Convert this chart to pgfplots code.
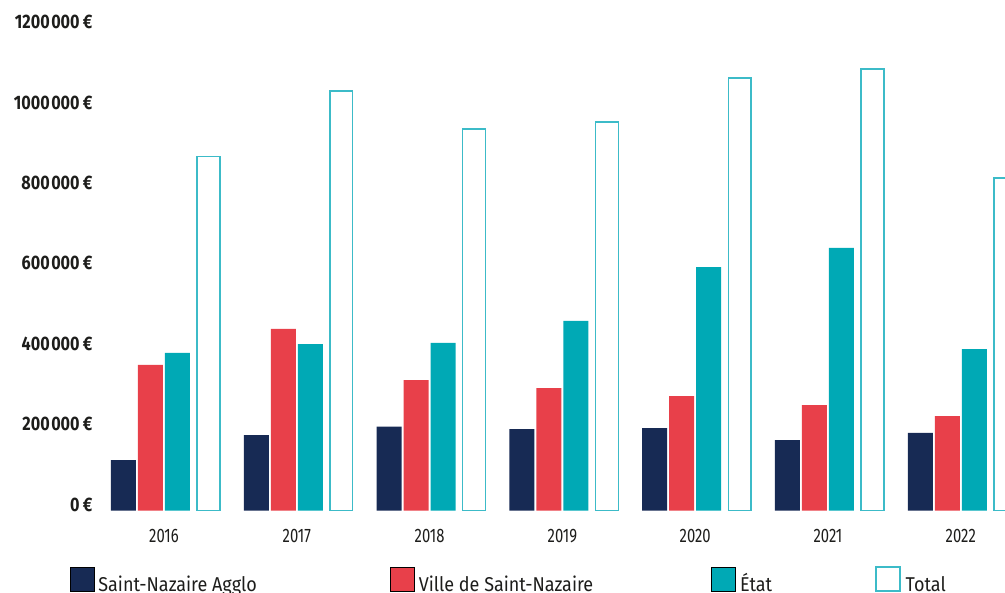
\documentclass[border=0pt]{standalone}
\usepackage{pgfplots}
\pgfplotsset{compat=1.18}
\usepackage{fontspec}
\setmainfont{Fira Sans}
\newfontfamily\condfont[FakeStretch=0.76]{Fira Sans}
\newfontfamily\condbfont[FakeStretch=0.83]{Fira Sans}
\newfontfamily\legfont[FakeStretch=0.9]{Fira Sans}
\definecolor{navy}{HTML}{172A54}
\definecolor{redc}{HTML}{E8404A}
\definecolor{teal2}{HTML}{00A9B5}
\definecolor{totc}{HTML}{3CBBC8}
\definecolor{textc}{HTML}{1D1D1B}
\pgfplotsset{legimg/.style={legend image code/.code={\draw[##1] (0bp,0bp) rectangle (24bp,24bp);}}}
\begin{document}
\begin{tikzpicture}
\useasboundingbox (0bp,0bp) rectangle (1005bp,593bp);
\begin{axis}[
  at={(100bp,82.5bp)}, anchor=south west,
  scale only axis, width=905bp, height=482.4bp,
  xmin=2015.503, xmax=2022.318, ymin=0, ymax=1200000,
  scaled y ticks=false, scaled x ticks=false,
  axis line style={draw=none}, major tick length=0pt,
  xtick={2016,2017,2018,2019,2020,2021,2022},
  xticklabels={2016,2017,2018,2019,2020,2021,2022},
  xticklabel style={font=\condfont\fontsize{19.5bp}{20bp}\selectfont, anchor=base, yshift=-32bp, xshift=-2bp, text=textc},
  ytick={0,200000,400000,600000,800000,1000000,1200000},
  yticklabels={0\,€, 200\kern1.5bp000\,€, 400\kern1.5bp000\,€, 600\kern1.5bp000\,€, 800\kern1.5bp000\,€, 1000\kern1.5bp000\,€, 1200\kern1.5bp000\,€},
  yticklabel style={font=\condbfont\bfseries\fontsize{19.5bp}{20bp}\selectfont, anchor=east, inner sep=0pt, xshift=-7.3bp, yshift=6bp, text=textc},
  legend columns=4,
  legend cell align=left,
  legend style={draw=none, fill=none, inner sep=0pt, outer sep=0pt,
    at={(-0.03315,-0.1420)}, anchor=west,
    cells={anchor=base west},
    nodes={inner sep=0pt, text depth=0pt, font=\legfont\fontsize{20bp}{22bp}\selectfont, text=textc}},
]
\addplot[ybar, bar width=25bp, bar shift=-42.5bp, fill=navy, draw=none, legimg]
  coordinates {(2016,125600) (2017,187800) (2018,208500) (2019,202700) (2020,205000) (2021,175000) (2022,192800)};
\addlegendentry{\makebox[296bp][l]{\hspace{4bp}Saint-Nazaire Agglo}}
\addplot[ybar, bar width=25bp, bar shift=-15.5bp, fill=redc, draw=none, legimg]
  coordinates {(2016,362000) (2017,451500) (2018,324600) (2019,304700) (2020,284800) (2021,262400) (2022,235000)};
\addlegendentry{\makebox[296bp][l]{\hspace{4bp}Ville de Saint-Nazaire}}
\addplot[ybar, bar width=25bp, bar shift=11.5bp, fill=teal2, draw=none, legimg]
  coordinates {(2016,391800) (2017,414000) (2018,416700) (2019,471400) (2020,605700) (2021,653000) (2022,401700)};
\addlegendentry{\makebox[140bp][l]{\hspace{5bp}État}}
\addplot[ybar, bar width=22.8bp, bar shift=42.5bp, fill=white, draw=totc, line width=1.5bp, legimg]
  coordinates {(2016,880000) (2017,1043500) (2018,949000) (2019,966000) (2020,1076000) (2021,1098000) (2022,827000)};
\addlegendentry{\hspace{5bp}Total}
\end{axis}
\end{tikzpicture}
\end{document}
